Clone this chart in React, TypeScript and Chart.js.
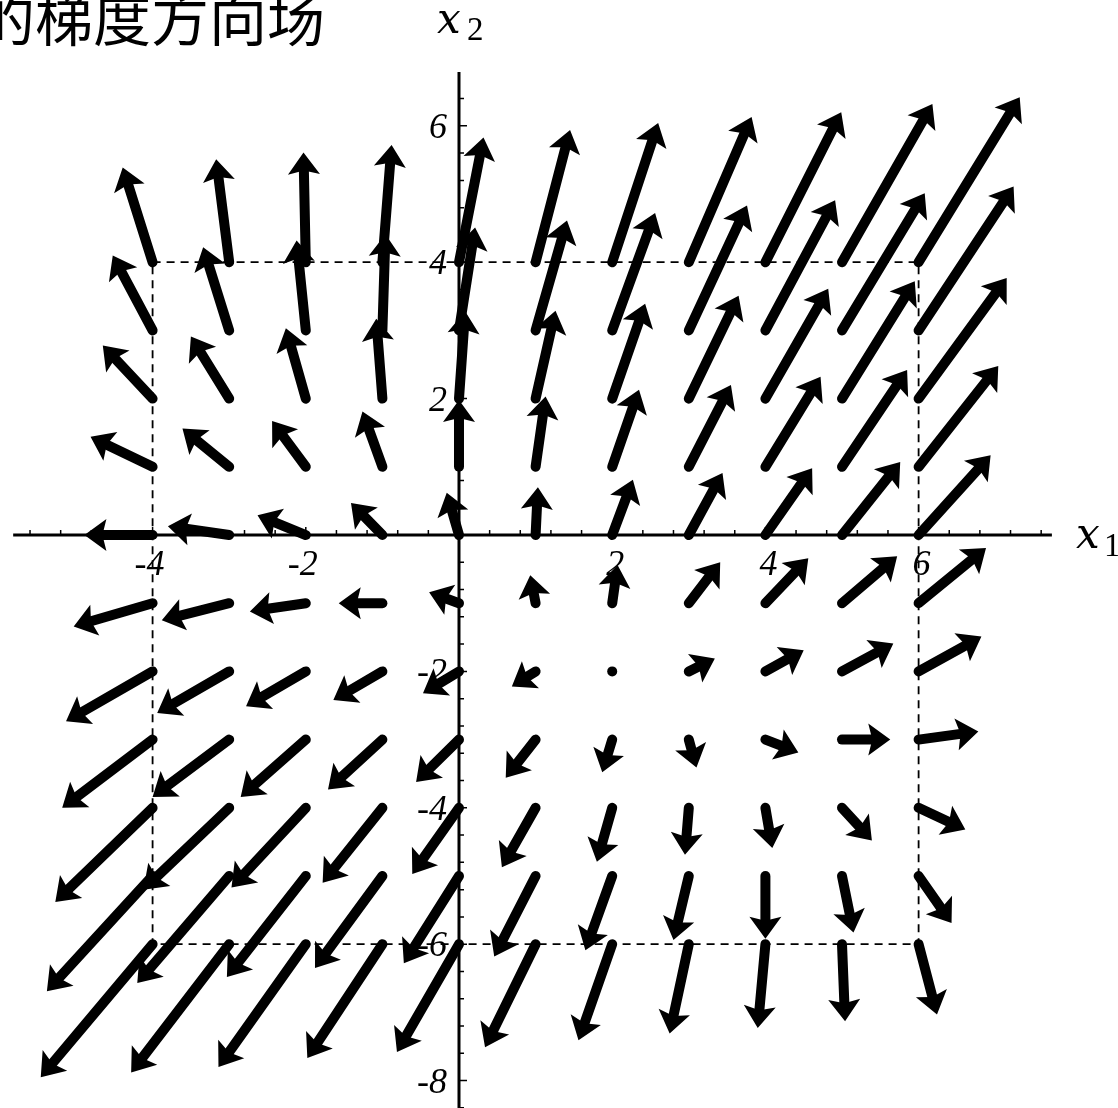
import { useEffect, useRef } from "react";
import { Chart, registerables } from "chart.js";

Chart.register(...registerables);

// Grid of sample points (x1 across, x2 down the rows)
const x1Grid = [-4, -3, -2, -1, 0, 1, 2, 3, 4, 5, 6];
const x2Grid = [4, 3, 2, 1, 0, -1, -2, -3, -4, -5, -6];

// Gradient vector components at each grid point, one row per x2 value
const gradX1 = [
  [-0.39, -0.17, -0.03, 0.12, 0.32, 0.45, 0.6, 0.82, 0.99, 1.18, 1.32],
  [-0.52, -0.34, -0.12, 0.04, 0.21, 0.41, 0.56, 0.76, 0.91, 1.08, 1.24],
  [-0.65, -0.5, -0.26, -0.08, 0.08, 0.26, 0.43, 0.65, 0.82, 0.95, 1.15],
  [-0.81, -0.61, -0.44, -0.26, 0.0, 0.13, 0.35, 0.55, 0.72, 0.85, 1.04],
  [-0.89, -0.8, -0.63, -0.41, -0.16, 0.03, 0.27, 0.44, 0.61, 0.76, 0.94],
  [-1.03, -0.88, -0.73, -0.57, -0.39, -0.07, 0.07, 0.41, 0.56, 0.72, 0.88],
  [-1.13, -0.94, -0.78, -0.64, -0.47, -0.31, 0.0, 0.34, 0.5, 0.67, 0.82],
  [-1.18, -1.0, -0.85, -0.71, -0.56, -0.39, -0.13, 0.1, 0.43, 0.63, 0.78],
  [-1.27, -1.12, -0.97, -0.78, -0.61, -0.44, -0.2, -0.05, 0.09, 0.39, 0.61],
  [-1.38, -1.2, -1.03, -0.88, -0.72, -0.54, -0.35, -0.2, 0.0, 0.15, 0.43],
  [-1.46, -1.28, -1.14, -0.98, -0.81, -0.66, -0.44, -0.25, -0.1, 0.04, 0.24],
];
const gradX2 = [
  [1.39, 1.51, 1.61, 1.72, 1.83, 1.94, 2.04, 2.13, 2.2, 2.32, 2.42],
  [1.1, 1.22, 1.32, 1.41, 1.51, 1.61, 1.72, 1.83, 1.91, 2.01, 2.11],
  [0.78, 0.91, 1.03, 1.17, 1.28, 1.29, 1.39, 1.51, 1.61, 1.72, 1.77],
  [0.44, 0.56, 0.67, 0.81, 0.98, 1.03, 1.13, 1.2, 1.32, 1.42, 1.48],
  [0.0, 0.13, 0.29, 0.47, 0.62, 0.7, 0.81, 0.91, 0.98, 1.07, 1.17],
  [-0.34, -0.25, -0.12, 0.0, 0.16, 0.41, 0.56, 0.6, 0.66, 0.69, 0.81],
  [-0.73, -0.61, -0.51, -0.42, -0.32, -0.22, 0.0, 0.19, 0.31, 0.41, 0.51],
  [-1.0, -0.84, -0.84, -0.73, -0.62, -0.56, -0.48, -0.41, -0.19, 0.0, 0.12],
  [-1.38, -1.2, -1.17, -1.1, -0.97, -0.87, -0.79, -0.69, -0.59, -0.48, -0.32],
  [-1.69, -1.57, -1.48, -1.35, -1.28, -1.18, -1.09, -0.94, -0.92, -0.83, -0.69],
  [-1.95, -1.88, -1.8, -1.67, -1.58, -1.51, -1.41, -1.31, -1.23, -1.13, -1.03],
];

// Axis tick labels
const x1TickLabels = [-4, -2, 2, 4, 6];
const x2TickLabels = [-8, -6, -4, -2, 2, 4, 6];

// Dashed region outline
const regionX = [-4, 6, 6, -4, -4];
const regionY = [4, 4, -6, -6, 4];

const titleText = "的梯度方向场";

// Visible window and axis extents (in data units)
const VIEW = { xMin: -5.992, xMax: 8.603, yMin: -8.402, yMax: 7.845 };
const AXIS = { x1From: -5.82, x1To: 7.74, x2From: -8.5, x2To: 6.79 };

const arrowPoints = x2Grid.flatMap((yv, r) =>
  x1Grid.map((xv, c) => ({ x: xv, y: yv, u: gradX1[r][c], v: gradX2[r][c] }))
);

const fieldPlugin = {
  id: "gradientField",
  beforeDatasetsDraw(chart: any) {
    const { ctx } = chart;
    const sx = chart.scales.x;
    const sy = chart.scales.y;
    const px = (v: number) => sx.getPixelForValue(v);
    const py = (v: number) => sy.getPixelForValue(v);
    ctx.save();
    ctx.fillStyle = "#000";
    ctx.strokeStyle = "#000";

    // title
    ctx.font = '58px "Noto Sans CJK SC"';
    ctx.textAlign = "left";
    ctx.textBaseline = "alphabetic";
    ctx.fillText(titleText, -23, 41);

    // axis lines
    ctx.lineWidth = 3;
    ctx.lineCap = "butt";
    ctx.beginPath();
    ctx.moveTo(px(AXIS.x1From), py(0));
    ctx.lineTo(px(AXIS.x1To), py(0));
    ctx.moveTo(px(0), py(AXIS.x2From));
    ctx.lineTo(px(0), py(AXIS.x2To));
    ctx.stroke();

    // tick marks: minor every 0.4, major every 2
    ctx.lineWidth = 1.5;
    ctx.beginPath();
    for (let k = Math.ceil(AXIS.x1From / 0.4); k <= Math.floor(AXIS.x1To / 0.4); k++) {
      if (k === 0) continue;
      const len = k % 5 === 0 ? 8 : 5;
      const xp = px(k * 0.4);
      ctx.moveTo(xp, py(0));
      ctx.lineTo(xp, py(0) - len);
    }
    for (let k = Math.ceil(AXIS.x2From / 0.4); k <= Math.floor(AXIS.x2To / 0.4); k++) {
      if (k === 0) continue;
      const len = k % 5 === 0 ? 8 : 5;
      const yp = py(k * 0.4);
      ctx.moveTo(px(0), yp);
      ctx.lineTo(px(0) + len, yp);
    }
    ctx.stroke();

    // tick labels
    ctx.font = 'italic 36px "Liberation Serif"';
    ctx.textAlign = "center";
    for (const v of x1TickLabels) {
      ctx.fillText(String(v), px(v) + (v < 0 ? -3 : 3), py(0) + 40);
    }
    ctx.textAlign = "right";
    for (const v of x2TickLabels) {
      ctx.fillText(String(v), px(0) - 12, py(v) + 12);
    }

    // axis names
    ctx.textAlign = "left";
    ctx.font = 'italic 42px "DejaVu Serif"';
    ctx.fillText("x", px(0) - 22, 33);
    ctx.fillText("x", px(AXIS.x1To) + 24, py(0) + 13);
    ctx.font = '33px "Liberation Serif"';
    ctx.fillText("2", px(0) + 8, 40);
    ctx.fillText("1", px(AXIS.x1To) + 52, py(0) + 21);
    ctx.restore();
  },
  afterDatasetsDraw(chart: any) {
    const { ctx } = chart;
    const sx = chart.scales.x;
    const sy = chart.scales.y;
    const pts = chart.data.datasets[1].data as { x: number; y: number; u: number; v: number }[];
    const headLen = 22;
    const headHalf = 16;
    ctx.save();
    ctx.fillStyle = "#000";
    ctx.strokeStyle = "#000";
    ctx.lineWidth = 10;
    ctx.lineCap = "round";
    for (const p of pts) {
      const x0 = sx.getPixelForValue(p.x);
      const y0 = sy.getPixelForValue(p.y);
      const x1 = sx.getPixelForValue(p.x + p.u);
      const y1 = sy.getPixelForValue(p.y + p.v);
      const dx = x1 - x0;
      const dy = y1 - y0;
      const len = Math.hypot(dx, dy);
      if (len < 1) {
        ctx.beginPath();
        ctx.arc(x0, y0, 5, 0, Math.PI * 2);
        ctx.fill();
        continue;
      }
      const ux = dx / len;
      const uy = dy / len;
      const nx = -uy;
      const ny = ux;
      const shaftEnd = Math.max(len - headLen + 4, 0);
      ctx.beginPath();
      ctx.moveTo(x0, y0);
      ctx.lineTo(x0 + ux * shaftEnd, y0 + uy * shaftEnd);
      ctx.stroke();
      const bx = x1 - ux * headLen;
      const by = y1 - uy * headLen;
      ctx.beginPath();
      ctx.moveTo(x1, y1);
      ctx.lineTo(bx + nx * headHalf, by + ny * headHalf);
      ctx.lineTo(bx + ux * 4, by + uy * 4);
      ctx.lineTo(bx - nx * headHalf, by - ny * headHalf);
      ctx.closePath();
      ctx.fill();
    }
    ctx.restore();
  },
};

export default function App() {
  const canvasRef = useRef<HTMLCanvasElement | null>(null);

  useEffect(() => {
    const canvas = canvasRef.current;
    if (!canvas) return;
    const chart = new Chart(canvas, {
      type: "scatter",
      data: {
        datasets: [
          {
            data: regionX.map((xv, i) => ({ x: xv, y: regionY[i] })),
            showLine: true,
            borderColor: "#000",
            borderWidth: 1.8,
            borderDash: [8, 6],
            pointRadius: 0,
            fill: false,
            tension: 0,
          },
          {
            data: arrowPoints,
            pointRadius: 0,
            showLine: false,
          },
        ],
      },
      options: {
        responsive: false,
        animation: false,
        events: [],
        layout: { padding: 0 },
        plugins: {
          legend: { display: false },
          tooltip: { enabled: false },
        },
        scales: {
          x: { type: "linear", display: false, min: VIEW.xMin, max: VIEW.xMax },
          y: { type: "linear", display: false, min: VIEW.yMin, max: VIEW.yMax },
        },
      },
      plugins: [fieldPlugin],
    });
    return () => chart.destroy();
  }, []);

  return (
    <div style={{ position: "absolute", left: 0, top: 0, width: 1118, height: 1108, background: "#fff" }}>
      <canvas ref={canvasRef} width={1118} height={1108} style={{ display: "block" }} />
    </div>
  );
}
